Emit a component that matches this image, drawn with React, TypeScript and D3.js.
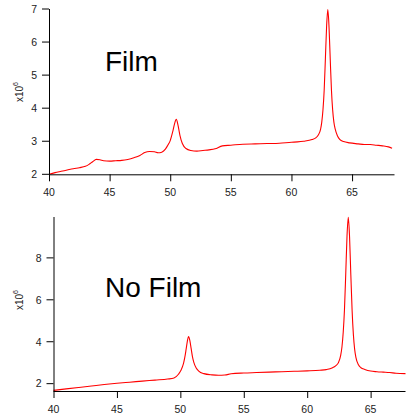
import React from "react";
import * as d3 from "d3";

// ---- Data ----
const filmX = [40.0, 40.5, 41.0, 41.5, 42.0, 42.5, 43.0, 43.3, 43.6, 43.9, 44.2, 44.5, 45.0, 45.5, 46.0, 46.5, 47.0, 47.5, 47.9, 48.3, 48.7, 49.0, 49.3, 49.6, 49.8, 50.0, 50.2, 50.35, 50.5, 50.65, 50.8, 51.0, 51.3, 51.7, 52.2, 52.7, 53.2, 53.7, 54.3, 55.0, 56.0, 57.0, 58.0, 59.0, 60.0, 60.5, 61.0, 61.7, 62.0, 62.2, 62.4, 62.5, 62.6, 62.7, 62.8, 62.9, 63.0, 63.1, 63.2, 63.3, 63.4, 63.5, 63.6, 63.8, 64.0, 64.3, 64.8, 65.5, 66.0, 66.5, 67.0, 67.5, 68.0, 68.3];
const filmY = [2.0, 2.05, 2.09, 2.13, 2.17, 2.2, 2.24, 2.3, 2.38, 2.45, 2.44, 2.41, 2.4, 2.41, 2.42, 2.45, 2.5, 2.57, 2.66, 2.69, 2.68, 2.65, 2.67, 2.76, 2.88, 3.02, 3.28, 3.52, 3.66, 3.47, 3.18, 2.93, 2.78, 2.72, 2.7, 2.72, 2.74, 2.77, 2.86, 2.88, 2.91, 2.92, 2.93, 2.94, 2.97, 2.98, 3.0, 3.05, 3.1, 3.18, 3.36, 3.58, 3.95, 4.55, 5.5, 6.48, 6.98, 6.45, 5.47, 4.54, 3.94, 3.58, 3.38, 3.16, 3.05, 2.99, 2.95, 2.92, 2.9, 2.9, 2.88, 2.86, 2.83, 2.79];

const noFilmX = [40, 41, 42, 43, 44, 45, 46, 47, 48, 49, 49.5, 49.85, 50.05, 50.25, 50.35, 50.45, 50.55, 50.65, 50.75, 50.85, 50.95, 51.05, 51.25, 51.45, 51.85, 52.5, 53.0, 53.5, 54.0, 55.0, 56, 57, 58, 59, 60, 61, 61.5, 62.0, 62.24, 62.44, 62.64, 62.74, 62.84, 62.94, 63.04, 63.14, 63.24, 63.34, 63.44, 63.54, 63.64, 63.74, 63.84, 64.04, 64.24, 64.54, 65.0, 65.5, 66.0, 66.5, 67.0, 67.75];
const noFilmY = [1.68, 1.75, 1.82, 1.89, 1.96, 2.02, 2.07, 2.12, 2.17, 2.22, 2.27, 2.45, 2.64, 2.97, 3.25, 3.62, 4.02, 4.25, 4.05, 3.68, 3.3, 3.04, 2.75, 2.6, 2.48, 2.42, 2.4, 2.41, 2.47, 2.51, 2.53, 2.55, 2.57, 2.59, 2.61, 2.64, 2.67, 2.76, 2.85, 2.98, 3.35, 3.75, 4.45, 5.55, 7.25, 9.05, 9.93, 9.0, 7.2, 5.5, 4.35, 3.65, 3.25, 2.9, 2.76, 2.68, 2.6, 2.57, 2.55, 2.53, 2.5, 2.48];

const filmXTicks = [40, 45, 50, 55, 60, 65];
const filmYTicks = [2, 3, 4, 5, 6, 7];
const noFilmXTicks = [40, 45, 50, 55, 60, 65];
const noFilmYTicks = [2, 4, 6, 8];

const FONT = "'Liberation Sans', Arial, sans-serif";

type PanelProps = {
  xs: number[];
  ys: number[];
  xDomain: [number, number];
  xRange: [number, number];
  yDomain: [number, number];
  yRange: [number, number];
  xTicks: number[];
  yTicks: number[];
  title: string;
  titleX: number;
  titleY: number;
  labelY: number;
};

function Panel(p: PanelProps) {
  const x = d3.scaleLinear().domain(p.xDomain).range(p.xRange);
  const y = d3.scaleLinear().domain(p.yDomain).range(p.yRange);
  const pts = p.xs.map((v, i) => [v, p.ys[i]] as [number, number]);
  const line = d3
    .line<[number, number]>()
    .x((d) => x(d[0]))
    .y((d) => y(d[1]))
    .curve(d3.curveMonotoneX);
  const x0 = p.xRange[0];
  const yBottom = p.yRange[0];
  const yTop = p.yRange[1];
  return (
    <g>
      <path d={line(pts) || ""} fill="none" stroke="#ff0000" strokeWidth={1.1} />
      {/* y axis */}
      <line x1={x0 + 0.5} x2={x0 + 0.5} y1={yTop} y2={yBottom} stroke="#000" strokeWidth={1} />
      {p.yTicks.map((t) => (
        <g key={"y" + t}>
          <line x1={x0 - 7} x2={x0} y1={y(t)} y2={y(t)} stroke="#000" strokeWidth={1} />
          <text x={x0 - 12} y={y(t)} dy="0.36em" textAnchor="end" fontSize={10.5} fontFamily={FONT} fill="#222">
            {t}
          </text>
        </g>
      ))}
      {/* x axis */}
      <line x1={x0} x2={p.xRange[1]} y1={yBottom + 0.5} y2={yBottom + 0.5} stroke="#000" strokeWidth={1} />
      {p.xTicks.map((t) => (
        <g key={"x" + t}>
          <line x1={x(t) + 0.5} x2={x(t) + 0.5} y1={yBottom} y2={yBottom + 7} stroke="#000" strokeWidth={1} />
          <text x={x(t)} y={yBottom + 22} textAnchor="middle" fontSize={10.5} fontFamily={FONT} fill="#222">
            {t}
          </text>
        </g>
      ))}
      {/* y label */}
      <text
        transform={`translate(23,${p.labelY}) rotate(-90)`}
        textAnchor="middle"
        fontSize={10}
        fontFamily={FONT}
        fill="#222"
      >
        x10
        <tspan dy={-5} fontSize={7}>
          6
        </tspan>
      </text>
      <text x={p.titleX} y={p.titleY} fontSize={28} fontFamily={FONT} fill="#000">
        {p.title}
      </text>
    </g>
  );
}

export default function App() {
  return (
    <svg
      width={406}
      height={415}
      style={{ position: "absolute", left: 0, top: 0, background: "#fff" }}
    >
      <rect width={406} height={415} fill="#fff" />
      <Panel
        xs={filmX}
        ys={filmY}
        xDomain={[40, 68.5]}
        xRange={[49, 394.5]}
        yDomain={[2, 7]}
        yRange={[174.3, 9]}
        xTicks={filmXTicks}
        yTicks={filmYTicks}
        title="Film"
        titleX={105}
        titleY={71}
        labelY={92}
      />
      <Panel
        xs={noFilmX}
        ys={noFilmY}
        xDomain={[40, 67.75]}
        xRange={[53.5, 405.5]}
        yDomain={[1.65, 9.95]}
        yRange={[391, 217]}
        xTicks={noFilmXTicks}
        yTicks={noFilmYTicks}
        title="No Film"
        titleX={105}
        titleY={297}
        labelY={300}
      />
    </svg>
  );
}
